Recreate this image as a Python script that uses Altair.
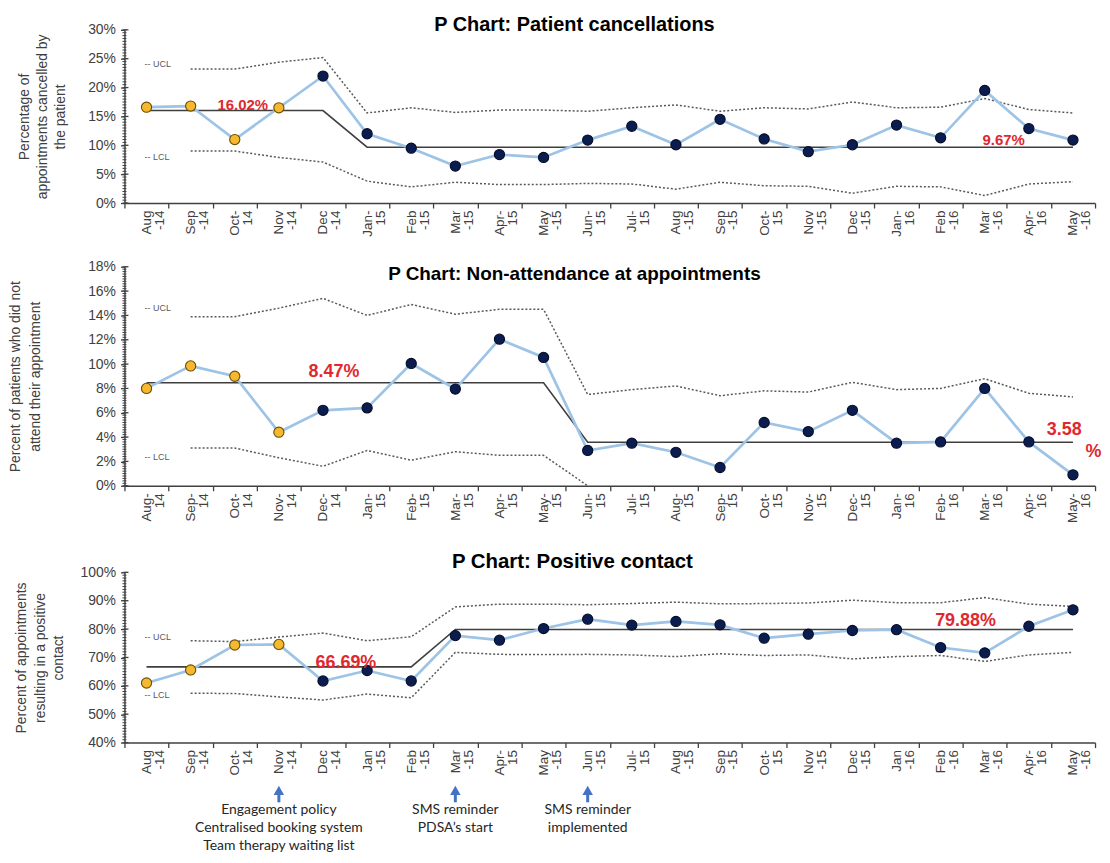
import altair as alt
import numpy as np
import pandas as pd

FONT = "Liberation Sans"
AX = "#404040"
DOT = "#595959"
CLC = "#3f3f3f"
LINE = "#9DC3E6"
NAVY = "#0B1C4F"
NAVY_EDGE = "#050d2a"
ORANGE = "#F5B82E"
ORANGE_EDGE = "#6b4e00"
RED = "#E0282E"
BLUE = "#4472C4"

months = ["Aug-14", "Sep-14", "Oct-14", "Nov-14", "Dec-14", "Jan-15", "Feb-15", "Mar-15",
          "Apr-15", "May-15", "Jun-15", "Jul-15", "Aug-15", "Sep-15", "Oct-15", "Nov-15",
          "Dec-15", "Jan-16", "Feb-16", "Mar-16", "Apr-16", "May-16"]
baseline_count = 4  # first months drawn as baseline (orange) points

# ---------------- Panel 1: patient cancellations ----------------
cancel_ticks = ["Aug|-14", "Sep|-14", "Oct-|14", "Nov|-14", "Dec|-14", "Jan-|15", "Feb|-15", "Mar|-15",
                "Apr-|15", "May|-15", "Jun-|15", "Jul-|15", "Aug|-15", "Sep|-15", "Oct-|15", "Nov|-15",
                "Dec|-15", "Jan-|16", "Feb|-16", "Mar|-16", "Apr-|16", "May|-16"]
cancel_pct = [16.6, 16.8, 11.0, 16.5, 22.0, 12.0, 9.5, 6.4, 8.4, 7.9, 10.9, 13.3, 10.1, 14.5, 11.1,
              8.9, 10.1, 13.5, 11.3, 19.5, 12.9, 10.9]
cancel_cl = [16.02, 16.02, 16.02, 16.02, 16.02, 9.67, 9.67, 9.67, 9.67, 9.67, 9.67, 9.67, 9.67, 9.67,
             9.67, 9.67, 9.67, 9.67, 9.67, 9.67, 9.67, 9.67]
cancel_ucl = [None, 23.2, 23.2, 24.4, 25.2, 15.6, 16.5, 15.7, 16.1, 16.1, 15.9, 16.5, 17.0, 15.9, 16.5,
              16.3, 17.5, 16.5, 16.6, 18.1, 16.2, 15.6]
cancel_lcl = [None, 9.0, 9.0, 7.9, 7.1, 3.8, 2.8, 3.6, 3.2, 3.2, 3.4, 3.3, 2.4, 3.6, 3.0, 2.9, 1.7,
              2.9, 2.8, 1.3, 3.3, 3.7]
cancel_limit_label_y = [24.0, 8.0]

# ---------------- Panel 2: non-attendance ----------------
dna_ticks = ["Aug-|14", "Sep-|14", "Oct-|14", "Nov-|14", "Dec-|14", "Jan-|15", "Feb-|15", "Mar-|15",
             "Apr-|15", "May-|15", "Jun-|15", "Jul-|15", "Aug-|15", "Sep-|15", "Oct-|15", "Nov-|15",
             "Dec-|15", "Jan-|16", "Feb-|16", "Mar-|16", "Apr-|16", "May-|16"]
dna_pct = [8.0, 9.85, 9.0, 4.4, 6.2, 6.4, 10.05, 7.95, 12.05, 10.55, 2.9, 3.5, 2.75, 1.5, 5.2, 4.45,
           6.2, 3.5, 3.6, 8.0, 3.6, 0.9]
dna_cl = [8.47, 8.47, 8.47, 8.47, 8.47, 8.47, 8.47, 8.47, 8.47, 8.47, 3.58, 3.58, 3.58, 3.58, 3.58,
          3.58, 3.58, 3.58, 3.58, 3.58, 3.58, 3.58]
dna_ucl = [None, 13.9, 13.9, 14.6, 15.4, 14.0, 14.9, 14.1, 14.5, 14.5, 7.5, 7.9, 8.2, 7.4, 7.8, 7.7,
           8.5, 7.9, 8.0, 8.8, 7.6, 7.3]
dna_lcl = [None, 3.1, 3.1, 2.3, 1.6, 2.9, 2.1, 2.8, 2.5, 2.5, 0.0, None, None, None, None, None,
           None, None, None, None, None, None]
dna_limit_label_y = [14.6, 2.4]

# ---------------- Panel 3: positive contact ----------------
pos_ticks = ["Aug|-14", "Sep|-14", "Oct-|14", "Nov|-14", "Dec|-14", "Jan|-15", "Feb|-15", "Mar|-15",
             "Apr-|15", "May|-15", "Jun|-15", "Jul-|15", "Aug|-15", "Sep|-15", "Oct-|15", "Nov|-15",
             "Dec|-15", "Jan|-16", "Feb|-16", "Mar|-16", "Apr-|16", "May|-16"]
pos_pct = [61.0, 65.6, 74.4, 74.6, 61.7, 65.4, 61.7, 77.7, 76.1, 80.2, 83.5, 81.4, 82.7, 81.5, 76.8,
           78.2, 79.5, 79.8, 73.5, 71.6, 81.0, 86.8]
pos_cl = [66.69, 66.69, 66.69, 66.69, 66.69, 66.69, 66.69, 79.88, 79.88, 79.88, 79.88, 79.88, 79.88,
          79.88, 79.88, 79.88, 79.88, 79.88, 79.88, 79.88, 79.88, 79.88]
pos_ucl = [None, 75.9, 75.6, 77.2, 78.6, 75.9, 77.3, 87.8, 88.8, 88.8, 88.6, 89.0, 89.5, 88.9, 89.0,
           89.2, 90.2, 89.3, 89.3, 91.1, 88.8, 88.0]
pos_lcl = [None, 57.4, 57.3, 56.1, 55.0, 57.1, 55.8, 71.8, 71.1, 71.0, 71.1, 70.9, 70.3, 71.3, 70.7,
           70.9, 69.5, 70.3, 70.7, 68.6, 70.9, 71.8]
pos_limit_label_y = [77.3, 56.6]

# ---------------- Interventions ----------------
event_months = ["Nov-14", "Mar-15", "Jun-15"]
event_texts = [["Engagement  policy", "Centralised booking system", "Team therapy waiting list"],
               ["SMS reminder", "PDSA\u2019s start"],
               ["SMS reminder", "implemented"]]

PLOT_W = 975


def make_panel(ticks, pct, cl, ucl, lcl, ydom, ymajor, yminor_step, ytitle, ytitle_x, ytitle_lh,
               title, title_size, title_x, title_y, limit_label_y, cl_marks, height,
               top_extent=None, events=None):
    n = len(ticks)
    xscale = alt.Scale(type="band", paddingInner=0, paddingOuter=0)
    yscale = alt.Scale(domain=ydom, nice=False, zero=False)
    phase = ["baseline" if i < baseline_count else "after" for i in range(n)]
    df = pd.DataFrame({"lab": ticks, "val": pct, "cl": cl, "ucl": ucl, "lcl": lcl, "phase": phase})

    xaxis = alt.Axis(title=None, labelExpr="isValid(datum.value) ? split(datum.value, '|') : ''",
                     labelAngle=270,
                     labelAlign="right", labelBaseline="middle", labelFont=FONT, labelFontSize=13.5,
                     labelColor=AX, labelLineHeight=13, labelPadding=2, labelOverlap=False,
                     tickBand="extent", tickSize=5, tickColor=AX, tickWidth=1.3,
                     domainColor=AX, domainWidth=1.5, grid=False)
    yaxis = alt.Axis(title=ytitle, titleX=ytitle_x, titleFont=FONT, titleFontSize=14,
                     titleFontWeight="normal", titleColor=AX, titleLineHeight=ytitle_lh,
                     values=ymajor, labelExpr="datum.value + '%'", labelFont=FONT, labelFontSize=14,
                     labelColor=AX, labelPadding=5, tickSize=4, tickColor=AX, tickWidth=1.3,
                     domainColor=AX, domainWidth=1.5, grid=False)

    def X():
        return alt.X("lab:N", sort=ticks, scale=xscale, axis=xaxis, bandPosition=0.5)

    def Y(field):
        return alt.Y(f"{field}:Q", scale=yscale, axis=yaxis)

    base = alt.Chart(df)
    layers = []
    layers.append(base.mark_line(color=DOT, strokeWidth=1.5, strokeDash=[2, 2])
                  .encode(x=X(), y=Y("ucl")))
    layers.append(base.mark_line(color=DOT, strokeWidth=1.5, strokeDash=[2, 2])
                  .encode(x=X(), y=Y("lcl")))

    minor_vals = [float(v) for v in np.arange(ydom[0], ydom[1] + 1e-9, yminor_step)]
    layers.append(alt.Chart(pd.DataFrame({"t": minor_vals})).mark_rule(color=AX, strokeWidth=1)
                  .encode(x=alt.value(-2), x2=alt.value(2), y=Y("t")))
    layers.append(alt.Chart(pd.DataFrame({"t": ymajor})).mark_rule(color=AX, strokeWidth=1.3)
                  .encode(x=alt.value(0), x2=alt.value(4), y=Y("t")))

    layers.append(base.mark_line(color=CLC, strokeWidth=1.6).encode(x=X(), y=Y("cl")))
    layers.append(base.mark_line(color=LINE, strokeWidth=2.7).encode(x=X(), y=Y("val")))
    layers.append(base.mark_circle(size=105, opacity=1, strokeWidth=1.1).encode(
        x=X(), y=Y("val"),
        fill=alt.Fill("phase:N", scale=alt.Scale(domain=["baseline", "after"], range=[ORANGE, NAVY]),
                      legend=None),
        stroke=alt.Stroke("phase:N", scale=alt.Scale(domain=["baseline", "after"],
                                                     range=[ORANGE_EDGE, NAVY_EDGE]), legend=None)))

    lim = pd.DataFrame({"lab": [ticks[0], ticks[0]], "y": limit_label_y, "t": ["-- UCL", "-- LCL"]})
    layers.append(alt.Chart(lim).mark_text(align="left", baseline="middle", font=FONT, fontSize=9,
                                           color=DOT, dx=-2)
                  .encode(x=X(), y=Y("y"), text="t:N"))

    for (mi, txt, yv, dx, dy, fs, al) in cl_marks:
        d = pd.DataFrame({"lab": [ticks[mi]], "y": [yv], "t": [txt]})
        layers.append(alt.Chart(d).mark_text(align=al, baseline="alphabetic", font=FONT, fontSize=fs,
                                             fontWeight="bold", color=RED, dx=dx, dy=dy)
                      .encode(x=X(), y=Y("y"), text="t:N"))

    layers.append(alt.Chart(pd.DataFrame({"t": [title]}))
                  .mark_text(font=FONT, fontSize=title_size, fontWeight="bold", color="black",
                             align="center", baseline="middle")
                  .encode(text="t:N", x=alt.value(title_x), y=alt.value(title_y)))

    if top_extent is not None:
        layers.append(alt.Chart(pd.DataFrame({"t": [0]})).mark_rule(strokeOpacity=0, opacity=0)
                      .encode(x=alt.value(0), y=alt.value(top_extent), y2=alt.value(0)))

    if events is not None:
        ev_months, ev_texts = events
        ev = pd.DataFrame({"lab": [ticks[months.index(m)] for m in ev_months],
                           "lines": ev_texts})
        evc = alt.Chart(ev)
        layers.append(evc.mark_rule(color=BLUE, strokeWidth=3)
                      .encode(x=X(), y=alt.value(height + 47), y2=alt.value(height + 60)))
        layers.append(evc.mark_point(shape="triangle-up", filled=True, size=110, color=BLUE, opacity=1)
                      .encode(x=X(), y=alt.value(height + 48)))
        layers.append(evc.mark_text(font="Lato", fontSize=14, lineHeight=18, color="#262626",
                                    align="center", baseline="top")
                      .encode(x=X(), y=alt.value(height + 61), text="lines"))

    return alt.layer(*layers).properties(width=PLOT_W, height=height)


p1 = make_panel(cancel_ticks, cancel_pct, cancel_cl, cancel_ucl, cancel_lcl,
                [0, 30], [0, 5, 10, 15, 20, 25, 30], 0.5,
                ["Percentage of", "appointments  cancelled by", "the patient"], -93, 18,
                "P Chart: Patient cancellations", 20, 452, -5, cancel_limit_label_y,
                [(2, "16.02%", 16.02, 8, -1, 15, "center"), (19, "9.67%", 9.67, 19, -2, 15, "center")],
                174)

p2 = make_panel(dna_ticks, dna_pct, dna_cl, dna_ucl, dna_lcl,
                [0, 18], [0, 2, 4, 6, 8, 10, 12, 14, 16, 18], 0.2,
                ["Percent of patients who did not", "attend their appointment"], -102, 19.5,
                "P Chart: Non-attendance at appointments", 19, 452, 7, dna_limit_label_y,
                [(4, "8.47%", 8.47, 11, -6, 18, "center"), (20, "3.58", 3.58, 18, -7, 18, "left"),
                 (20, "%", 3.58, 57, 15, 18, "left")],
                220)

p3 = make_panel(pos_ticks, pos_pct, pos_cl, pos_ucl, pos_lcl,
                [40, 100], [40, 50, 60, 70, 80, 90, 100], 1,
                ["Percent of appointments", "resulting in a positive", "contact"], -96, 18.5,
                "P Chart: Positive contact", 20.5, 450, -10, pos_limit_label_y,
                [(4, "66.69%", 66.69, 23, 1, 18, "center"), (18, "79.88%", 79.88, 25, -3, 18, "center")],
                171, top_extent=-27, events=(event_months, event_texts))

chart = (alt.vconcat(p1, p2, p3, spacing=23)
         .properties(padding={"left": 0, "top": 5, "right": 0, "bottom": 0}, background="white")
         .configure_view(stroke=None))

chart.save("out.html", embed_options={"renderer": "svg", "actions": False})
